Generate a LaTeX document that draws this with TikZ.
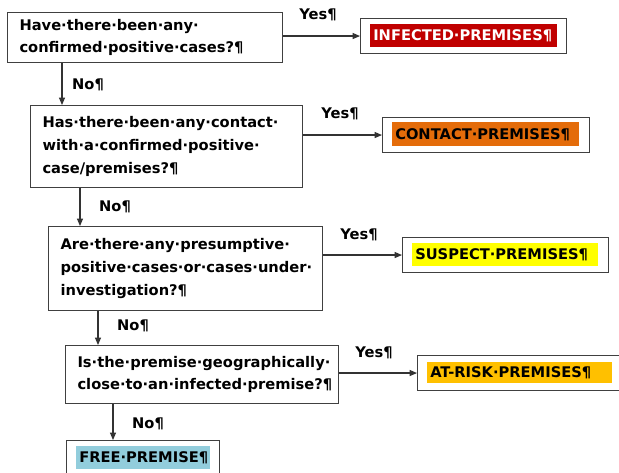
\documentclass[tikz,border=0pt]{standalone}
\usepackage{fontspec}
\setmainfont{DejaVu Sans}
\usepackage{xcolor}
\usepackage{tikz}
\usetikzlibrary{arrows.meta}
\definecolor{infred}{RGB}{192,0,0}
\definecolor{conorange}{RGB}{228,108,10}
\definecolor{susyellow}{RGB}{255,255,0}
\definecolor{riskamber}{RGB}{255,192,0}
\definecolor{freeblue}{RGB}{146,205,220}
\definecolor{boxgray}{RGB}{64,64,64}
\newcommand{\pxu}{0.75pt}

\begin{document}
\begin{tikzpicture}[x=0.75pt,y=-0.75pt,
  every node/.style={font=\bfseries\fontsize{11}{17}\selectfont},
  qbox/.style={draw=boxgray,line width=0.8pt,anchor=north west,align=left,inner xsep=12*\pxu,inner ysep=0pt},
  obox/.style={draw=boxgray,line width=0.8pt,anchor=north west,inner sep=0pt},
  hl/.style={anchor=west,align=left,inner xsep=3*\pxu,inner ysep=0pt},
  lbl/.style={inner sep=0pt},
  flow/.style={-{Triangle[length=5.5pt,width=4.5pt]},line width=0.8pt,draw=black!80}]
\useasboundingbox (0,0) rectangle (619,473);
% questions
\node[qbox,text width=251*\pxu,minimum height=50*\pxu] (q1) at (7,12)
  {Have·there·been·any·\\confirmed·positive·cases?¶};
\node[qbox,text width=248*\pxu,minimum height=82*\pxu] (q2) at (30,105)
  {Has·there·been·any·contact·\\with·a·confirmed·positive·\\case/premises?¶};
\node[qbox,text width=250*\pxu,minimum height=84*\pxu] (q3) at (48,226)
  {Are·there·any·presumptive·\\positive·cases·or·cases·under·\\investigation?¶};
\node[qbox,text width=249*\pxu,minimum height=58*\pxu] (q4) at (65,345)
  {Is·the·premise·geographically·\\close·to·an·infected·premise?¶};
% outcomes
\node[obox,minimum width=206*\pxu,minimum height=35*\pxu] (ip) at (360,18) {};
\node[hl,fill=infred,text=white,text width=181*\pxu,minimum height=23*\pxu] (ip-hl) at (370,35.5) {INFECTED·PREMISES¶};
\node[obox,minimum width=207*\pxu,minimum height=35*\pxu] (cp) at (382,117) {};
\node[hl,fill=conorange,text width=181*\pxu,minimum height=24*\pxu] (cp-hl) at (392,134.5) {CONTACT·PREMISES¶};
\node[obox,minimum width=206*\pxu,minimum height=35*\pxu] (sp) at (402,237) {};
\node[hl,fill=susyellow,text width=180*\pxu,minimum height=23*\pxu] (sp-hl) at (412,254.5) {SUSPECT·PREMISES¶};
\node[obox,minimum width=210*\pxu,minimum height=35*\pxu] (rp) at (417,355) {};
\node[hl,fill=riskamber,text width=179*\pxu,minimum height=21*\pxu] (rp-hl) at (427,372.5) {AT-RISK·PREMISES¶};
\node[obox,minimum width=153*\pxu,minimum height=36*\pxu] (fp) at (66,440) {};
\node[hl,fill=freeblue,text width=128*\pxu,minimum height=23*\pxu] (fp-hl) at (76,458) {FREE·PREMISE¶};
% yes branches
\draw[flow] (ip.west -| q1.east) -- (ip.west);
\draw[flow] (cp.west -| q2.east) -- (cp.west);
\draw[flow] (sp.west -| q3.east) -- (sp.west);
\draw[flow] (rp.west -| q4.east) -- (rp.west);
\node[lbl] (y1) at (318,15) {Yes¶};
\node[lbl] (y2) at (340,114) {Yes¶};
\node[lbl] (y3) at (359,235) {Yes¶};
\node[lbl] (y4) at (374,353) {Yes¶};
% no branches
\draw[flow] (q1.south west) ++(55,0) coordinate (d1) -- (d1 |- q2.north);
\draw[flow] (q2.south west) ++(50,0) coordinate (d2) -- (d2 |- q3.north);
\draw[flow] (q3.south west) ++(50,0) coordinate (d3) -- (d3 |- q4.north);
\draw[flow] (q4.south west) ++(48,0) coordinate (d4) -- (d4 |- fp.north);
\node[lbl] (n1) at (88,85) {No¶};
\node[lbl] (n2) at (115,207) {No¶};
\node[lbl] (n3) at (133,326) {No¶};
\node[lbl] (n4) at (148,424) {No¶};
\end{tikzpicture}
\end{document}
